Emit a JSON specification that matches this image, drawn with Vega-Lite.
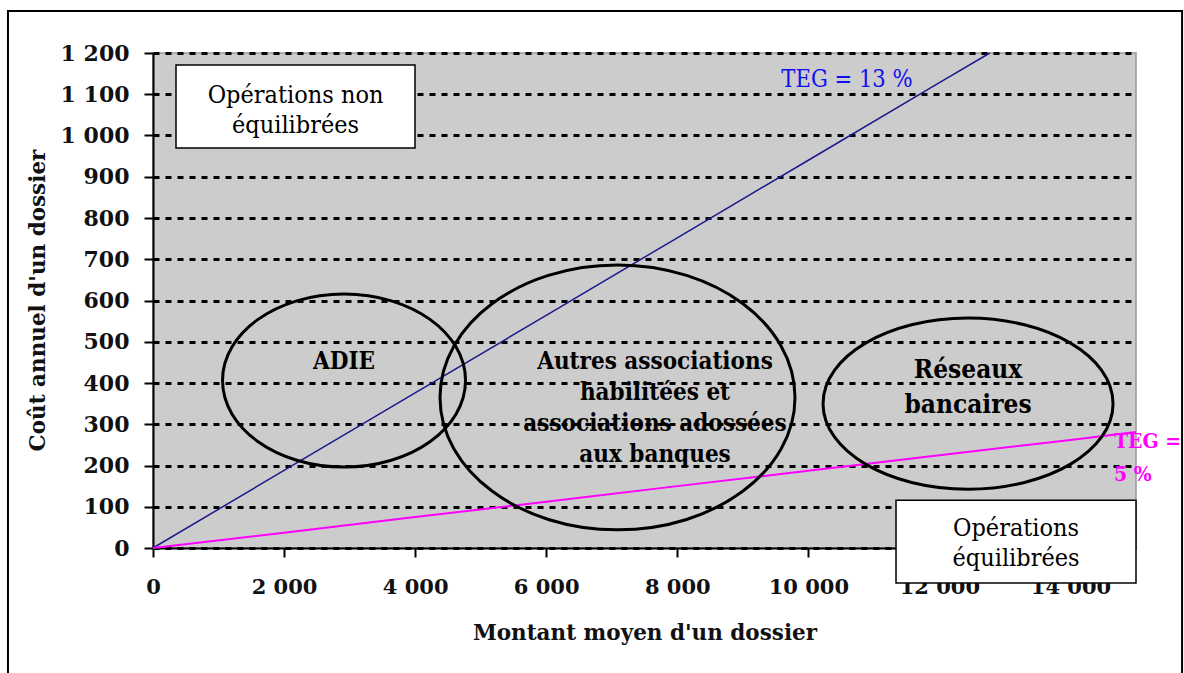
{
  "$schema": "https://vega.github.io/schema/vega-lite/v6.json",
  "width": 983,
  "height": 495,
  "autosize": {"type": "none"},
  "padding": {"left": 153, "top": 53, "right": 48, "bottom": 125},
  "background": "white",
  "config": {
    "view": {"fill": "#CCCCCC", "stroke": "#999999", "strokeWidth": 1.5}
  },
  "datasets": {
    "lines": [
      {"montant": 0, "cout": 0, "serie": "TEG = 13 %"},
      {"montant": 2000, "cout": 188, "serie": "TEG = 13 %"},
      {"montant": 4000, "cout": 376, "serie": "TEG = 13 %"},
      {"montant": 6000, "cout": 564, "serie": "TEG = 13 %"},
      {"montant": 8000, "cout": 752, "serie": "TEG = 13 %"},
      {"montant": 10000, "cout": 940, "serie": "TEG = 13 %"},
      {"montant": 12000, "cout": 1128, "serie": "TEG = 13 %"},
      {"montant": 12770, "cout": 1200, "serie": "TEG = 13 %"},
      {"montant": 0, "cout": 0, "serie": "TEG = 5 %"},
      {"montant": 2000, "cout": 37, "serie": "TEG = 5 %"},
      {"montant": 4000, "cout": 75, "serie": "TEG = 5 %"},
      {"montant": 6000, "cout": 112, "serie": "TEG = 5 %"},
      {"montant": 8000, "cout": 150, "serie": "TEG = 5 %"},
      {"montant": 10000, "cout": 187, "serie": "TEG = 5 %"},
      {"montant": 12000, "cout": 225, "serie": "TEG = 5 %"},
      {"montant": 14000, "cout": 262, "serie": "TEG = 5 %"},
      {"montant": 15000, "cout": 281, "serie": "TEG = 5 %"}
    ],
    "groupes": [
      {"groupe": "ADIE", "montant": 2915, "cout": 406},
      {"groupe": "Autres", "montant": 7088, "cout": 365},
      {"groupe": "Réseaux", "montant": 12437, "cout": 350}
    ],
    "zones": [
      {"zone": "Opérations non équilibrées", "x1": 351, "x2": 3998, "y1": 970, "y2": 1171},
      {"zone": "Opérations équilibrées", "x1": 11338, "x2": 15000, "y1": -85, "y2": 116}
    ],
    "cadre": [
      {"x1": -2213, "x2": 15703, "y1": -330, "y2": 1302}
    ],
    "notesZones": [
      {"texte": "Opérations non\néquilibrées", "montant": 2175, "cout": 1098},
      {"texte": "Opérations\néquilibrées", "montant": 13170, "cout": 49}
    ],
    "notesGroupes": [
      {"texte": "ADIE", "montant": 2915, "cout": 451},
      {"texte": "Autres associations\nhabilitées et\nassociations adossées\naux banques", "montant": 7660, "cout": 451}
    ],
    "notesReseaux": [
      {"texte": "Réseaux\nbancaires", "montant": 12437, "cout": 431}
    ],
    "notesTeg13": [
      {"texte": "TEG = 13 %", "montant": 10590, "cout": 1135}
    ],
    "notesTeg5": [
      {"texte": "TEG =\n5 %", "montant": 14665, "cout": 257}
    ]
  },
  "layer": [
    {
      "data": {"name": "lines"},
      "mark": {"type": "line", "clip": false},
      "encoding": {
        "x": {
          "field": "montant", "type": "quantitative",
          "scale": {"domain": [0, 15000], "nice": false, "zero": false},
          "axis": {
            "values": [0, 2000, 4000, 6000, 8000, 10000, 12000, 14000],
            "grid": false,
            "domainColor": "black", "domainWidth": 2,
            "tickColor": "black", "tickWidth": 2, "tickSize": 9,
            "labelPadding": 19, "labelFont": "DejaVu Serif", "labelFontWeight": "bold", "labelFontSize": 21, "labelColor": "#111111",
            "labelFlush": false, "labelOverlap": false,
            "labelExpr": "replace(format(datum.value, ','), ',', ' ')",
            "title": "Montant moyen d'un dossier",
            "titleFont": "DejaVu Serif", "titleFontWeight": "bold", "titleFontSize": 21.5, "titleColor": "#111111",
            "titleY": 85, "titleBaseline": "middle"
          }
        },
        "y": {
          "field": "cout", "type": "quantitative",
          "scale": {"domain": [0, 1200], "nice": false, "zero": false},
          "axis": {
            "values": [0, 100, 200, 300, 400, 500, 600, 700, 800, 900, 1000, 1100, 1200],
            "grid": true, "gridColor": "black", "gridWidth": 3, "gridDash": [6, 6], "gridOpacity": 1,
            "domainColor": "black", "domainWidth": 2,
            "tickColor": "black", "tickWidth": 2, "tickSize": 9,
            "labelPadding": 15, "labelFont": "DejaVu Serif", "labelFontWeight": "bold", "labelFontSize": 22, "labelColor": "#111111",
            "labelOverlap": false,
            "labelExpr": "replace(format(datum.value, ','), ',', ' ')",
            "title": "Coût annuel d'un dossier",
            "titleFont": "DejaVu Serif", "titleFontWeight": "bold", "titleFontSize": 21.5, "titleColor": "#111111",
            "titleX": -115, "titleY": 247, "titleAngle": -90, "titleBaseline": "middle", "titleAlign": "center"
          }
        },
        "color": {
          "field": "serie", "type": "nominal",
          "scale": {"domain": ["TEG = 13 %", "TEG = 5 %"], "range": ["#1a1a8c", "#ff00ff"]},
          "legend": null
        },
        "strokeWidth": {
          "field": "serie", "type": "nominal",
          "scale": {"domain": ["TEG = 13 %", "TEG = 5 %"], "range": [1.5, 2]},
          "legend": null
        }
      }
    },
    {
      "data": {"name": "cadre"},
      "mark": {"type": "rect", "fill": null, "fillOpacity": 0, "stroke": "black", "strokeWidth": 2, "clip": false},
      "encoding": {
        "x": {"field": "x1", "type": "quantitative"},
        "x2": {"field": "x2"},
        "y": {"field": "y1", "type": "quantitative"},
        "y2": {"field": "y2"}
      }
    },
    {
      "data": {"name": "groupes"},
      "transform": [{"filter": "datum.groupe === 'ADIE'"}],
      "mark": {"type": "point", "shape": "M-1,0A1,0.712,0,1,0,1,0A1,0.712,0,1,0,-1,0Z", "size": 59049, "filled": false, "stroke": "black", "strokeWidth": 3, "opacity": 1, "clip": false},
      "encoding": {
        "x": {"field": "montant", "type": "quantitative"},
        "y": {"field": "cout", "type": "quantitative"}
      }
    },
    {
      "data": {"name": "groupes"},
      "transform": [{"filter": "datum.groupe === 'Autres'"}],
      "mark": {"type": "point", "shape": "M-1,0A1,0.746,0,1,0,1,0A1,0.746,0,1,0,-1,0Z", "size": 126025, "filled": false, "stroke": "black", "strokeWidth": 3, "opacity": 1, "clip": false},
      "encoding": {
        "x": {"field": "montant", "type": "quantitative"},
        "y": {"field": "cout", "type": "quantitative"}
      }
    },
    {
      "data": {"name": "groupes"},
      "transform": [{"filter": "datum.groupe === 'Réseaux'"}],
      "mark": {"type": "point", "shape": "M-1,0A1,0.59,0,1,0,1,0A1,0.59,0,1,0,-1,0Z", "size": 84100, "filled": false, "stroke": "black", "strokeWidth": 3, "opacity": 1, "clip": false},
      "encoding": {
        "x": {"field": "montant", "type": "quantitative"},
        "y": {"field": "cout", "type": "quantitative"}
      }
    },
    {
      "data": {"name": "zones"},
      "mark": {"type": "rect", "fill": "white", "stroke": "black", "strokeWidth": 1.5, "clip": false},
      "encoding": {
        "x": {"field": "x1", "type": "quantitative"},
        "x2": {"field": "x2"},
        "y": {"field": "y1", "type": "quantitative"},
        "y2": {"field": "y2"}
      }
    },
    {
      "data": {"name": "notesZones"},
      "mark": {"type": "text", "lineBreak": "\n", "lineHeight": 30, "font": "DejaVu Serif Condensed, DejaVu Serif", "fontSize": 25, "color": "black", "align": "center", "baseline": "middle", "clip": false},
      "encoding": {
        "x": {"field": "montant", "type": "quantitative"},
        "y": {"field": "cout", "type": "quantitative"},
        "text": {"field": "texte"}
      }
    },
    {
      "data": {"name": "notesGroupes"},
      "mark": {"type": "text", "lineBreak": "\n", "lineHeight": 31, "font": "DejaVu Serif Condensed, DejaVu Serif", "fontWeight": "bold", "fontSize": 24, "color": "black", "align": "center", "baseline": "middle", "clip": false},
      "encoding": {
        "x": {"field": "montant", "type": "quantitative"},
        "y": {"field": "cout", "type": "quantitative"},
        "text": {"field": "texte"}
      }
    },
    {
      "data": {"name": "notesReseaux"},
      "mark": {"type": "text", "lineBreak": "\n", "lineHeight": 35, "font": "DejaVu Serif Condensed, DejaVu Serif", "fontWeight": "bold", "fontSize": 26, "color": "black", "align": "center", "baseline": "middle", "clip": false},
      "encoding": {
        "x": {"field": "montant", "type": "quantitative"},
        "y": {"field": "cout", "type": "quantitative"},
        "text": {"field": "texte"}
      }
    },
    {
      "data": {"name": "notesTeg13"},
      "mark": {"type": "text", "font": "DejaVu Serif Condensed, DejaVu Serif", "fontSize": 23.5, "color": "#1010ee", "align": "center", "baseline": "middle", "clip": false},
      "encoding": {
        "x": {"field": "montant", "type": "quantitative"},
        "y": {"field": "cout", "type": "quantitative"},
        "text": {"field": "texte"}
      }
    },
    {
      "data": {"name": "notesTeg5"},
      "mark": {"type": "text", "lineBreak": "\n", "lineHeight": 33, "font": "DejaVu Serif Condensed, DejaVu Serif", "fontWeight": "bold", "fontSize": 21, "color": "#ff00ff", "align": "left", "baseline": "middle", "clip": false},
      "encoding": {
        "x": {"field": "montant", "type": "quantitative"},
        "y": {"field": "cout", "type": "quantitative"},
        "text": {"field": "texte"}
      }
    }
  ]
}
